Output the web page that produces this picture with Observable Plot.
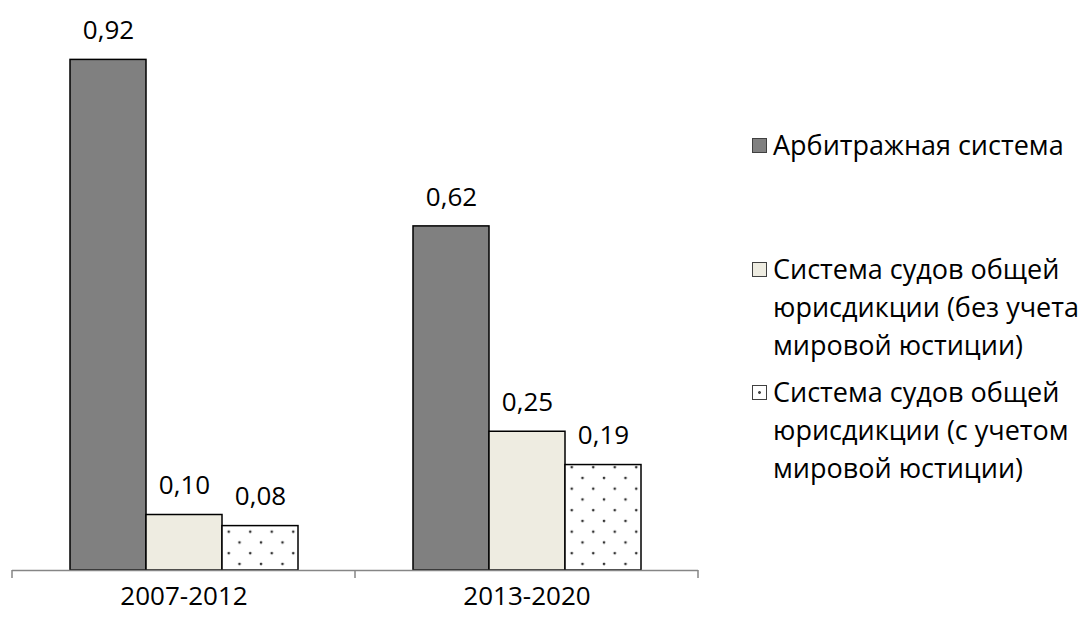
<!DOCTYPE html>
<html>
<head>
<meta charset="utf-8">
<script src="https://cdn.jsdelivr.net/npm/d3@7"></script>
<script src="https://cdn.jsdelivr.net/npm/@observablehq/plot@0.6"></script>
<style>
  html, body { margin: 0; padding: 0; background: #fff; }
  #wrap { position: relative; width: 1086px; height: 621px; font-family: "Open Sans", sans-serif; }
  #chart { position: absolute; left: 0; top: 0; }
  .legend { position: absolute; left: 752px; top: 0; width: 334px; }
  .item { position: absolute; left: 0; display: flex; align-items: flex-start; }
  .sw { width: 13px; height: 13px; border: 1px solid #404040; box-sizing: content-box; margin-top: 12px; margin-right: 6px; flex: none; }
  .lbl { font-size: 27px; line-height: 38px; color: #000; width: 318px; }
</style>
</head>
<body>
<div id="wrap"><div id="chart"></div><div class="legend" id="legend"></div></div>
<script>
const periods = ["2007-2012", "2013-2020"];
const series = [
  "Арбитражная система",
  "Система судов общей юрисдикции (без учета мировой юстиции)",
  "Система судов общей юрисдикции (с учетом мировой юстиции)"
];
const arbitrazh = [0.92, 0.62];
const generalWithout = [0.10, 0.25];
const generalWith = [0.08, 0.19];
const fills = ["#808080", "#EEECE1", "url(#dots)"];

const seriesValues = [arbitrazh, generalWithout, generalWith];
const rows = [];
periods.forEach((p, i) => series.forEach((s, j) => rows.push({period: p, series: s, value: seriesValues[j][i]})));

const fmt = v => v.toFixed(2).replace(".", ",");

const plot = Plot.plot({
  width: 720,
  height: 621,
  marginLeft: 12,
  marginRight: 22,
  marginTop: 15,
  marginBottom: 51,
  style: {fontFamily: "Open Sans, sans-serif", fontSize: "26px", color: "#000", background: "#fff"},
  fx: {domain: periods, padding: 0, axis: "bottom", label: null, tickSize: 0, tickPadding: 16},
  x: {domain: series, paddingInner: 0, paddingOuter: 0.742, axis: null},
  y: {domain: [0, 1], axis: null},
  color: {domain: series, range: fills},
  marks: [
    Plot.barY(rows, {fx: "period", x: "series", y: "value", fill: "series", stroke: "#000", strokeWidth: 1.5}),
    Plot.text(rows, {fx: "period", x: "series", y: "value", text: d => fmt(d.value), dy: -29, fontSize: 26, fill: "#000"}),
    Plot.ruleY([0], {stroke: "#868686", strokeWidth: 1.5})
  ]
});

// pattern for dotted bars
const svg = d3.select(plot.tagName.toLowerCase() === "svg" ? plot : plot.querySelector("svg"));
const defs = svg.insert("defs", ":first-child");
const pat = defs.append("pattern").attr("id", "dots").attr("patternUnits", "userSpaceOnUse")
  .attr("width", 21.5).attr("height", 21.5);
pat.append("rect").attr("width", 21.5).attr("height", 21.5).attr("fill", "#fff");
pat.append("circle").attr("cx", 3).attr("cy", 5).attr("r", 1.35).attr("fill", "#333");
pat.append("circle").attr("cx", 13.75).attr("cy", 15.75).attr("r", 1.35).attr("fill", "#333");

// category boundary tick marks from the fx scale
const fxs = plot.scale("fx");
const ys = plot.scale("y");
const band = d3.scaleBand().domain(fxs.domain).range(fxs.range).paddingInner(fxs.paddingInner || 0).paddingOuter(fxs.paddingOuter || 0);
const edges = fxs.domain.map(d => band(d)).concat([band(fxs.domain[fxs.domain.length - 1]) + band.bandwidth()]);
const y0 = ys.range[0];
svg.append("g").selectAll("line").data(edges).join("line")
  .attr("x1", d => d).attr("x2", d => d).attr("y1", y0).attr("y2", y0 + 8)
  .attr("stroke", "#868686").attr("stroke-width", 1.5);

document.getElementById("chart").appendChild(plot);

// legend
const legendTops = [126, 250, 373];
const legend = document.getElementById("legend");
series.forEach((s, i) => {
  const item = document.createElement("div");
  item.className = "item";
  item.style.top = legendTops[i] + "px";
  const sw = document.createElement("div");
  sw.className = "sw";
  if (i === 2) {
    sw.style.background = "radial-gradient(circle at center, #444 0 1.2px, #fff 1.6px)";
  } else {
    sw.style.background = fills[i];
  }
  const lbl = document.createElement("div");
  lbl.className = "lbl";
  lbl.textContent = s;
  item.appendChild(sw);
  item.appendChild(lbl);
  legend.appendChild(item);
});
</script>
</body>
</html>
